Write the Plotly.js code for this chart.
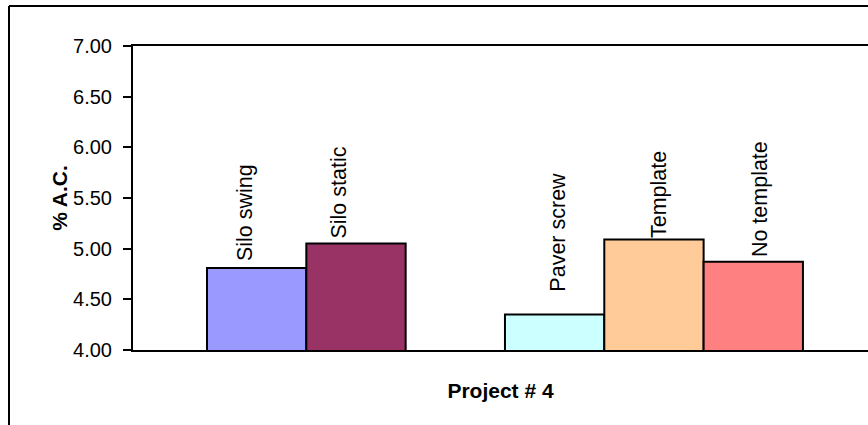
<!DOCTYPE html>
<html>
<head>
<meta charset="utf-8">
<script src="https://cdn.plot.ly/plotly-3.0.1.min.js"></script>
<style>
  html, body { margin: 0; padding: 0; background: #ffffff; }
  #chart { width: 868px; height: 425px; }
</style>
</head>
<body>
<div id="chart"></div>
<script>
// Data
const seriesNames = ['Silo swing', 'Silo static', ' ', 'Paver screw', 'Template', 'No template'];
const seriesValues = [4.81, 5.05, null, 4.35, 5.09, 4.87];
const seriesColors = ['#9999FF', '#993366', '#FFFFFF', '#CCFFFF', '#FFCC99', '#FF8080'];
const yTickValues = [4.0, 4.5, 5.0, 5.5, 6.0, 6.5, 7.0];
const yTickLabels = ['4.00', '4.50', '5.00', '5.50', '6.00', '6.50', '7.00'];
const xAxisTitle = 'Project # 4';
const yAxisTitle = '% A.C.';

// Label nudges (style only, pixels)
const labelXShift = [-11, -17, 0, 3, 5, 7];
const labelYShift = [5, 3, 0, 21, 0, 3];

const FONT = 'Liberation Sans, Arial, Helvetica, sans-serif';

const trace = {
  type: 'bar',
  x: seriesNames,
  y: seriesValues,
  base: 0,
  marker: { color: seriesColors, line: { color: '#000000', width: 2 } },
  hoverinfo: 'skip',
  showlegend: false
};

const annotations = [];
seriesNames.forEach((name, i) => {
  if (seriesValues[i] === null) return;
  annotations.push({
    x: name, y: seriesValues[i], xref: 'x', yref: 'y',
    text: name, showarrow: false, textangle: -90,
    xanchor: 'center', yanchor: 'bottom',
    xshift: labelXShift[i], yshift: labelYShift[i],
    font: { family: FONT, size: 21.5, color: '#000000' }
  });
});

const layout = {
  width: 868, height: 425,
  margin: { l: 133, r: 0, t: 46, b: 75, pad: 0 },
  paper_bgcolor: '#ffffff', plot_bgcolor: '#ffffff',
  bargap: 0,
  font: { family: FONT, color: '#000000' },
  xaxis: {
    type: 'category',
    categoryorder: 'array', categoryarray: seriesNames,
    range: [-1.245, 6.155],
    showticklabels: false, ticks: '',
    showline: true, linecolor: '#000000', linewidth: 2, mirror: true,
    showgrid: false, zeroline: false, fixedrange: true,
    title: { text: xAxisTitle, font: { family: FONT, size: 21, color: '#000000', weight: 'bold' }, standoff: 32 }
  },
  yaxis: {
    range: [4, 7],
    tickvals: yTickValues, ticktext: yTickLabels,
    ticks: 'outside', ticklen: 8, tickwidth: 2, tickcolor: '#000000',
    tickfont: { family: FONT, size: 20, color: '#000000' },
    ticklabelstandoff: 7,
    showline: true, linecolor: '#000000', linewidth: 2, mirror: false,
    showgrid: false, zeroline: false, fixedrange: true,
    title: { text: yAxisTitle, font: { family: FONT, size: 21, color: '#000000', weight: 'bold' }, standoff: 0 }
  },
  shapes: [
    { type: 'line', xref: 'paper', yref: 'paper', x0: (9 - 133) / 735, x1: (9 - 133) / 735, y0: 1 + (46 - 6) / 304, y1: -0.4, line: { color: '#000000', width: 2 } },
    { type: 'line', xref: 'paper', yref: 'paper', x0: (9 - 133) / 735, x1: 1.05, y0: 1 + (46 - 6) / 304, y1: 1 + (46 - 6) / 304, line: { color: '#000000', width: 2 } }
  ],
  annotations: annotations
};

Plotly.newPlot('chart', [trace], layout, { displayModeBar: false, staticPlot: true });
</script>
</body>
</html>
